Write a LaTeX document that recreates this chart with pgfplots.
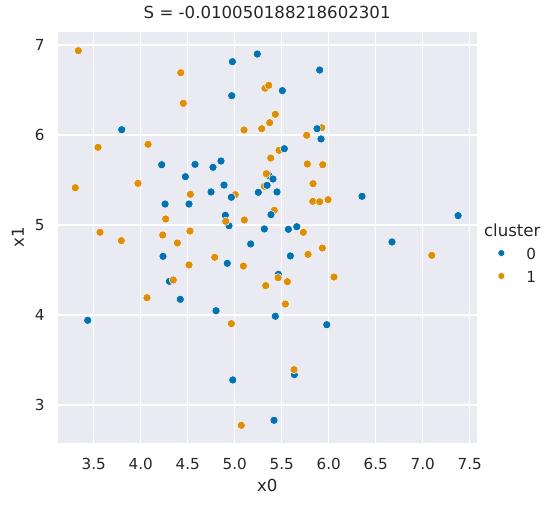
\documentclass[border=0pt]{standalone}
\usepackage{pgfplots}
\pgfplotsset{compat=1.18}
\usepackage{fontspec}
\setmainfont{DejaVu Sans}
\definecolor{sbblue}{HTML}{0173B2}
\definecolor{sborange}{HTML}{DE8F05}
\definecolor{sbbg}{HTML}{EAEAF2}
\definecolor{sbtext}{HTML}{262626}
\begin{document}
\begin{tikzpicture}
\begin{axis}[
  at={(57.7bp,63.3bp)}, anchor=south west,
  scale only axis, width=419bp, height=411bp,
  xmin=3.117, xmax=7.574, ymin=2.581, ymax=7.148,
  axis background/.style={fill=sbbg},
  axis line style={draw=none},
  major tick length=0pt,
  grid=major,
  major grid style={white, line width=1.1bp},
  xtick={3.5,4,4.5,5,5.5,6,6.5,7,7.5},
  ytick={3,4,5,6,7},
  /pgf/number format/assume math mode=true,
  xticklabel style={/pgf/number format/.cd, fixed, fixed zerofill, precision=1, /tikz/.cd,
     anchor=north, inner sep=0pt, yshift=-15.6bp},
  yticklabel style={anchor=east, inner sep=0pt, xshift=-12.9bp},
  tick label style={font=\fontsize{15.2bp}{18bp}\selectfont, text=sbtext},
  title={S = -0.010050188218602301},
  title style={at={(axis description cs:0.5,1)}, anchor=base, yshift=7.7bp, inner sep=0pt,
     font=\fontsize{16.6bp}{20bp}\selectfont, text=sbtext},
  xlabel={x0}, ylabel={x1},
  xlabel style={at={(axis description cs:0.5,0)}, anchor=base, yshift=-49bp, inner sep=0pt,
     font=\fontsize{16.6bp}{20bp}\selectfont, text=sbtext},
  ylabel style={at={(axis description cs:-0.08043,0.5)}, anchor=base, inner sep=0pt,
     font=\fontsize{16.6bp}{20bp}\selectfont, text=sbtext},
  legend cell align=left,
  legend image code/.code={\draw[#1, mark size=3.5bp] plot coordinates {(0bp,0bp)};},
  legend style={at={(axis description cs:1.05048,0.5345)}, anchor=north west,
     draw=none, fill=none, inner sep=0pt, outer sep=0pt,
     row sep=9bp, column sep=21.6bp,
     nodes={inner sep=0pt, text height=13bp, text depth=1bp, text=sbtext,
            font=\fontsize{15.2bp}{18bp}\selectfont}},
]
\addlegendimage{empty legend}
\addlegendentry{\hspace*{-42.4bp}\fontsize{16.6bp}{20bp}\selectfont cluster}

\addplot[only marks, mark=*, mark size=4.1bp, mark options={draw=white, line width=0.5bp, fill=sbblue}]
coordinates {
(4.975,6.815) (5.240,6.900) (4.968,6.437) (3.798,6.059) (4.223,5.670)
(4.578,5.674) (4.769,5.641) (4.854,5.711) (4.475,5.537) (4.886,5.444)
(4.748,5.367) (5.251,5.363) (5.365,5.548) (5.407,5.511)
(4.259,5.233) (4.514,5.233) (4.900,5.108) (4.939,4.992) (5.315,4.956)
(5.904,6.722) (5.507,6.493) (5.918,5.956)
(5.450,5.367) (6.354,5.319) (7.376,5.104) (5.571,4.952)
(5.660,4.981) (5.170,4.789) (4.237,4.652) (4.921,4.574) (4.305,4.374)
(4.421,4.174) (4.801,4.048) (3.436,3.941) (4.979,3.278) (6.673,4.811)
(5.592,4.656) (5.464,4.452) (5.432,3.986) (5.979,3.892) (5.634,3.337)
(5.418,2.830)
};
\addlegendentry{0}

\addplot[only marks, mark=*, mark size=4.1bp, mark options={draw=white, line width=0.5bp, fill=sborange}]
coordinates {
(3.336,6.937) (4.426,6.692) (4.453,6.352) (5.322,6.520) (5.362,6.552)
(5.099,6.056) (5.287,6.070) (3.546,5.863) (4.078,5.897) (3.304,5.414)
(3.971,5.463) (4.528,5.341) (5.006,5.337) (5.336,5.570) (5.315,5.430)
(4.904,5.041) (4.266,5.067) (5.102,5.056) (3.567,4.919) (4.234,4.889)
(4.524,4.933) (5.432,6.230) (5.372,6.137) (5.926,6.081) (5.766,5.997)
(5.471,5.830) (5.383,5.744) (5.772,5.678) (5.936,5.670) (5.833,5.459)
(5.830,5.263) (5.904,5.259) (5.993,5.281) (5.421,5.163) (5.730,4.919)
(3.794,4.826) (4.390,4.800) (4.787,4.641) (4.514,4.556) (5.092,4.544)
(5.330,4.326) (4.347,4.389) (4.067,4.192) (4.964,3.904) (5.070,2.774)
(5.932,4.744) (5.780,4.674) (7.096,4.663) (5.461,4.414) (5.560,4.370)
(6.056,4.422) (5.539,4.122) (5.631,3.393)
};
\addlegendentry{1}

\addplot[forget plot, only marks, mark=*, mark size=4.1bp, mark options={draw=white, line width=0.5bp, fill=sbblue}]
coordinates {
(5.876,6.070) (5.344,5.441) (5.386,5.115) (4.964,5.308) (5.528,5.848)
};
\end{axis}
\pgfresetboundingbox
\useasboundingbox (0,0) rectangle (554bp,506bp);
\end{tikzpicture}
\end{document}
